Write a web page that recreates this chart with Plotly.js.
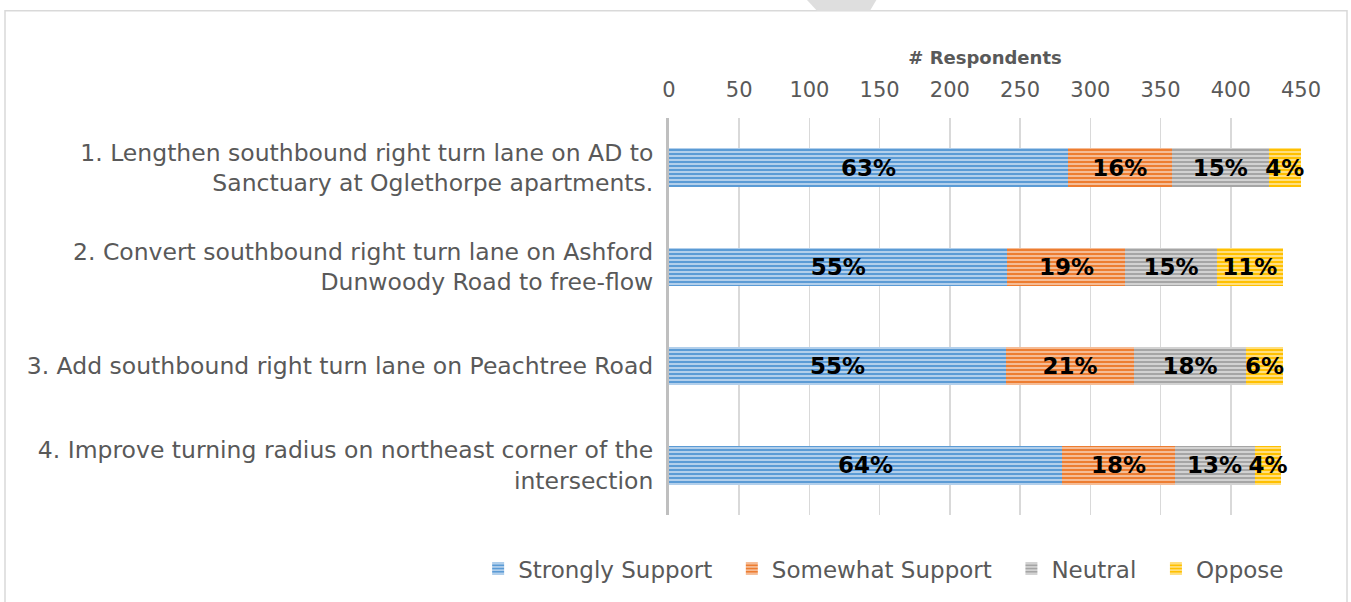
<!DOCTYPE html>
<html>
<head>
<meta charset="utf-8">
<script src="https://cdn.plot.ly/plotly-3.0.1.min.js"></script>
<style>html,body{margin:0;padding:0;background:#fff;}#chart{width:1351px;height:602px;}</style>
</head>
<body>
<div id="chart"></div>
<script>
const categories = [
  "1. Lengthen southbound right turn lane on AD to<br>Sanctuary at Oglethorpe apartments.",
  "2. Convert southbound right turn lane on Ashford<br>Dunwoody Road to free-flow",
  "3. Add southbound right turn lane on Peachtree Road",
  "4. Improve turning radius on northeast corner of the<br>intersection"
];
const seriesNames = ["Strongly Support", "Somewhat Support", "Neutral", "Oppose"];
const strongly = [284, 241, 240, 280];
const somewhat = [74, 84, 91, 80];
const neutral = [69, 65, 80, 57];
const oppose = [23, 47, 26, 19];
const stronglyLabels = ["63%", "55%", "55%", "64%"];
const somewhatLabels = ["16%", "19%", "21%", "18%"];
const neutralLabels = ["15%", "15%", "18%", "13%"];
const opposeLabels = ["4%", "11%", "6%", "4%"];
const xTicks = [0, 50, 100, 150, 200, 250, 300, 350, 400, 450];

const colors = ["#5B9BD5", "#ED7D31", "#A5A5A5", "#FFC000"];
const lights = ["#C9DDF1", "#F8CDB0", "#DEDEDE", "#FFE8A0"];
const values = [strongly, somewhat, neutral, oppose];
const labels = [stronglyLabels, somewhatLabels, neutralLabels, opposeLabels];

const traces = seriesNames.map((name, i) => ({
  type: "bar",
  orientation: "h",
  name: i < seriesNames.length - 1 ? name + "\u00a0\u00a0" : name,
  y: categories,
  x: values[i],
  text: labels[i],
  textposition: "inside",
  insidetextanchor: "middle",
  textangle: 0,
  constraintext: "none",
  cliponaxis: false,
  textfont: {family: "DejaVu Sans", size: 23, color: "#000", weight: "bold"},
  marker: {
    color: colors[i],
    line: {width: 0},
    pattern: {shape: "-", fillmode: "replace", bgcolor: colors[i], fgcolor: lights[i], size: 4, solidity: 0.4}
  },
  hoverinfo: "skip"
}));

const layout = {
  width: 1351,
  height: 602,
  margin: {l: 669, r: 50, t: 118, b: 84},
  paper_bgcolor: "#fff",
  plot_bgcolor: "#fff",
  barmode: "stack",
  bargap: 0.61,
  showlegend: true,
  legend: {
    orientation: "h",
    x: -0.302, xanchor: "left",
    y: -0.135, yanchor: "middle",
    font: {family: "DejaVu Sans", size: 23, color: "#595959"},
    itemwidth: 30,
    traceorder: "normal"
  },
  xaxis: {
    side: "top",
    range: [0, 450],
    tickvals: xTicks,
    ticktext: xTicks.map(String),
    showgrid: true,
    gridcolor: "#D9D9D9",
    gridwidth: 1.5,
    zeroline: false,
    showline: false,
    ticks: "",
    ticklabelstandoff: 16,
    tickfont: {family: "DejaVu Sans", size: 21, color: "#595959"},
    title: {text: "# Respondents", font: {family: "DejaVu Sans", size: 18, color: "#595959", weight: "bold"}, standoff: 8}
  },
  yaxis: {
    autorange: "reversed",
    showline: true,
    linecolor: "#BFBFBF",
    linewidth: 3,
    showgrid: false,
    ticks: "",
    ticklabelstandoff: 8,
    tickfont: {family: "DejaVu Sans", size: 23.5, color: "#595959"}
  },
  shapes: [
    {type: "rect", xref: "paper", yref: "paper",
     x0: (5 - 669) / 632, x1: (1347 - 669) / 632, y0: (518 - 640) / 400, y1: (518 - 10) / 400,
     line: {color: "#D9D9D9", width: 1.5}, fillcolor: "rgba(0,0,0,0)", layer: "below"},
    {type: "path", xref: "paper", yref: "paper",
     path: "M " + ((806 - 669) / 632) + " " + ((518 + 2) / 400) + " L " + ((877 - 669) / 632) + " " + ((518 + 2) / 400) +
           " L " + ((870 - 669) / 632) + " " + ((518 - 10) / 400) + " L " + ((817 - 669) / 632) + " " + ((518 - 10) / 400) + " Z",
     line: {width: 0}, fillcolor: "#DEDEDE", layer: "below"}
  ]
};

Plotly.newPlot("chart", traces, layout, {displayModeBar: false, staticPlot: true});
</script>
</body>
</html>
